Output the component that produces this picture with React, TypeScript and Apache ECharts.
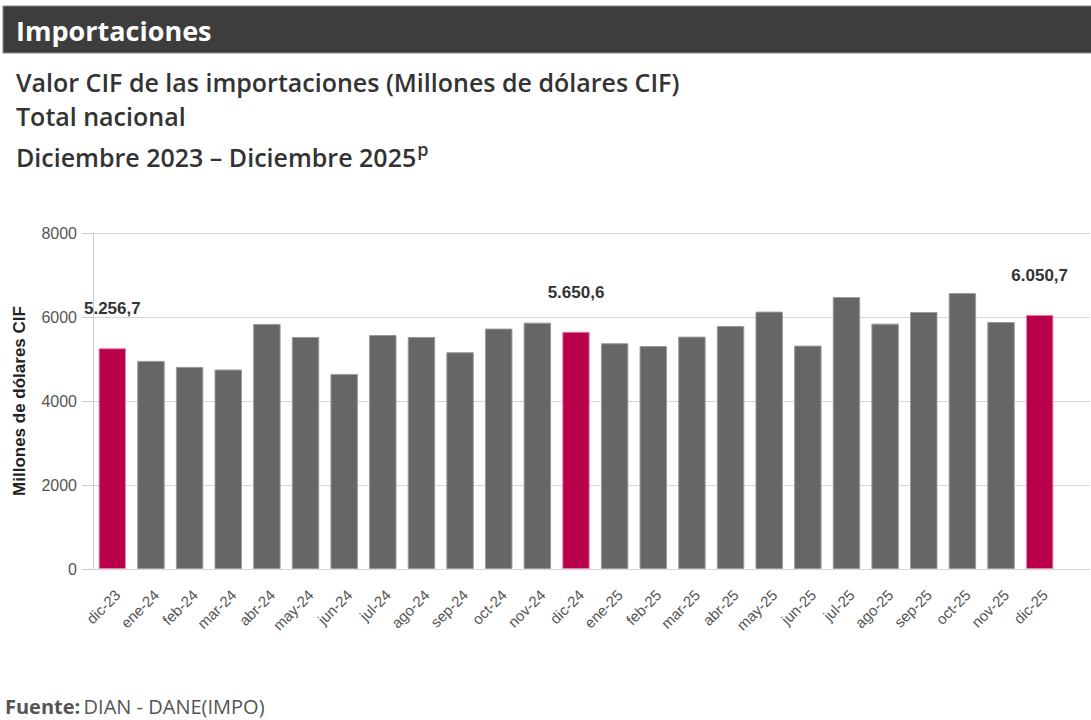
import React, { useEffect, useRef } from "react";
import * as echarts from "echarts";

const categories = [
  "dic-23", "ene-24", "feb-24", "mar-24", "abr-24", "may-24", "jun-24", "jul-24", "ago-24", "sep-24", "oct-24", "nov-24",
  "dic-24", "ene-25", "feb-25", "mar-25", "abr-25", "may-25", "jun-25", "jul-25", "ago-25", "sep-25", "oct-25", "nov-25", "dic-25",
];
const values = [
  5256.7, 4955, 4812, 4750, 5835, 5525, 4645, 5572, 5525, 5161, 5724, 5866,
  5650.6, 5375, 5310, 5533, 5787, 6128, 5319, 6476, 5842, 6119, 6571, 5882, 6050.7,
];
const highlighted = ["dic-23", "dic-24", "dic-25"];
const yTicks = { min: 0, max: 8000, interval: 2000 };

const headerTitle = "Importaciones";
const titleLines = ["Valor CIF de las importaciones (Millones de dólares CIF)", "Total nacional"];
const periodText = "Diciembre 2023 – Diciembre 2025";
const yAxisName = "Millones de dólares CIF";
const sourceLabel = "Fuente:";
const sourceText = "DIAN - DANE(IMPO)";

const fmt = (v: number) => {
  const [i, d] = v.toFixed(1).split(".");
  return i.replace(/\B(?=(\d{3})+(?!\d))/g, ".") + "," + d;
};

export default function App() {
  const ref = useRef<HTMLDivElement>(null);
  useEffect(() => {
    if (!ref.current) return;
    const chart = echarts.init(ref.current, undefined, { renderer: "svg" });
    const data = values.map((v, i) => {
      const hi = highlighted.includes(categories[i]);
      return {
        value: v,
        itemStyle: hi
          ? { color: "#b8004b", borderColor: "#e889ad", borderWidth: 1 }
          : { color: "#666666", borderColor: "#9a9a9a", borderWidth: 1 },
        label: { show: hi },
      };
    });
    const textFont = "'Open Sans', sans-serif";
    const arial = "'Liberation Sans', Arial, sans-serif";
    chart.setOption({
      animation: false,
      backgroundColor: "#ffffff",
      graphic: [
        {
          type: "rect",
          shape: { x: 3, y: 6, width: 1090, height: 47 },
          style: { fill: "#3d3d3d", stroke: "#8a8a8a", lineWidth: 1 },
        },
        {
          type: "text",
          x: 16,
          y: 30,
          style: { text: headerTitle, fill: "#ffffff", font: `bold 27px ${textFont}`, verticalAlign: "middle" },
        },
        {
          type: "text",
          x: 16,
          y: 82,
          style: { text: titleLines[0], fill: "#333333", font: `600 25px ${textFont}`, verticalAlign: "middle" },
        },
        {
          type: "text",
          x: 16,
          y: 116,
          style: { text: titleLines[1], fill: "#333333", font: `600 25px ${textFont}`, verticalAlign: "middle" },
        },
        {
          type: "text",
          x: 16,
          y: 157,
          style: {
            text: `{a|${periodText}}{p|p}`,
            verticalAlign: "middle",
            fill: "#333333",
            rich: {
              a: { fill: "#333333", fontSize: 25, fontWeight: 600, fontFamily: "Open Sans" },
              p: { fill: "#333333", fontSize: 18, fontWeight: 600, fontFamily: "Open Sans", verticalAlign: "top", padding: [0, 0, 16, 1] },
            },
          },
        },
        {
          type: "text",
          x: 5,
          y: 706,
          style: {
            text: `{b|${sourceLabel}} {r|${sourceText}}`,
            verticalAlign: "middle",
            fill: "#555555",
            rich: {
              b: { fill: "#555555", fontSize: 20, fontWeight: "bold", fontFamily: "Open Sans" },
              r: { fill: "#555555", fontSize: 20, fontFamily: "Open Sans" },
            },
          },
        },
      ],
      grid: [
        { left: 93, right: 1, top: 233, bottom: 151 },
        { left: 93, right: 32, top: 233, bottom: 151 },
      ],
      xAxis: [
        { type: "category", gridIndex: 0, data: [""], show: false },
        {
          type: "category",
          gridIndex: 1,
          data: categories,
          axisLine: { show: false },
          axisTick: { show: false },
          axisLabel: {
            rotate: 45,
            margin: 18,
            align: "right",
            verticalAlign: "top",
            color: "#555555",
            fontSize: 15,
            fontFamily: arial,
          },
        },
      ],
      yAxis: [
        {
          type: "value",
          gridIndex: 0,
          min: yTicks.min,
          max: yTicks.max,
          interval: yTicks.interval,
          name: yAxisName,
          nameLocation: "middle",
          nameGap: 65,
          nameTextStyle: {
            color: "#222222",
            fontSize: 17,
            fontWeight: "bold",
            fontFamily: arial,
          },
          axisLine: { show: true, lineStyle: { color: "#cccccc", width: 1 } },
          axisTick: { show: true, length: 11, lineStyle: { color: "#cccccc" } },
          axisLabel: {
            margin: 16,
            color: "#555555",
            fontSize: 16,
            fontFamily: arial,
            formatter: (v: number) => String(v),
          },
          splitLine: { show: true, lineStyle: { color: "#d6d6d6", width: 1 } },
        },
        {
          type: "value",
          gridIndex: 1,
          min: yTicks.min,
          max: yTicks.max,
          interval: yTicks.interval,
          show: false,
          splitLine: { show: false },
        },
      ],
      series: [
        {
          type: "bar",
          xAxisIndex: 1,
          yAxisIndex: 1,
          data,
          barCategoryGap: "29%",
          label: {
            position: "top",
            distance: 31,
            color: "#333333",
            fontSize: 17,
            fontWeight: "bold",
            fontFamily: arial,
            formatter: (p: any) => fmt(p.value),
          },
        },
      ],
    });
    return () => chart.dispose();
  }, []);
  return (
    <div
      ref={ref}
      style={{ position: "fixed", left: 0, top: 0, width: 1091, height: 720 }}
    />
  );
}
